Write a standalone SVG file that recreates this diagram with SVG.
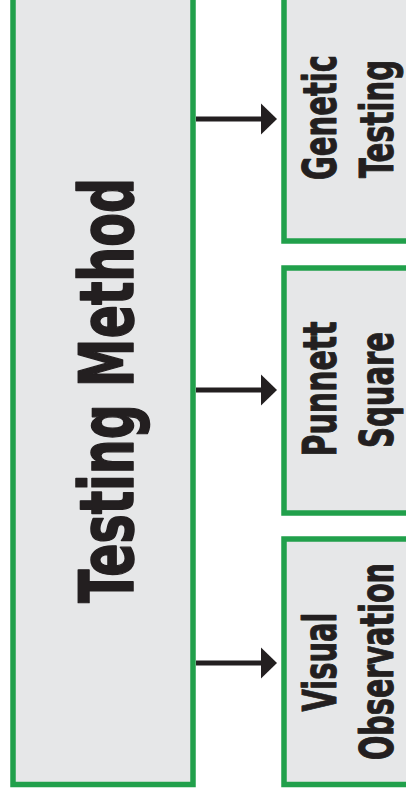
<svg xmlns="http://www.w3.org/2000/svg" width="406" height="797" viewBox="0 0 406 797">
<defs>
<style>
.box{fill:#e6e7e8;stroke:#21a04b;stroke-width:5.5}
.lbl{font-family:"Liberation Sans Narrow","DejaVu Sans Condensed","Liberation Sans",sans-serif;font-weight:bold;fill:#231f20;stroke:#231f20;stroke-linejoin:round;text-anchor:middle}
.big{font-size:74px;stroke-width:1.6}
.sm{font-size:47px;stroke-width:1}
.conn{stroke:#231f20;stroke-width:5;fill:none}
.head{fill:#231f20}
</style>
</defs>
<rect width="406" height="797" fill="#ffffff"/>
<g id="testing-method">
<rect class="box" x="13" y="-10" width="180" height="794.5"/>
<text class="lbl big" transform="translate(133,390.5) rotate(-90)" textLength="425" lengthAdjust="spacingAndGlyphs">Testing Method</text>
</g>
<g id="genetic-testing">
<rect class="box" x="284" y="-10" width="140" height="251"/>
<text class="lbl sm" transform="translate(336,117.5) rotate(-90)" textLength="125" lengthAdjust="spacingAndGlyphs">Genetic</text>
<text class="lbl sm" transform="translate(393,119) rotate(-90)" textLength="118" lengthAdjust="spacingAndGlyphs">Testing</text>
</g>
<g id="punnett-square">
<rect class="box" x="284" y="268" width="140" height="245"/>
<text class="lbl sm" transform="translate(336,389) rotate(-90)" textLength="135" lengthAdjust="spacingAndGlyphs">Punnett</text>
<text class="lbl sm" transform="translate(393,390) rotate(-90)" textLength="116" lengthAdjust="spacingAndGlyphs">Square</text>
</g>
<g id="visual-observation">
<rect class="box" x="284" y="539" width="140" height="245.5"/>
<text class="lbl sm" transform="translate(336,662) rotate(-90)" textLength="99" lengthAdjust="spacingAndGlyphs">Visual</text>
<text class="lbl sm" transform="translate(393,661.5) rotate(-90)" textLength="197" lengthAdjust="spacingAndGlyphs">Observation</text>
</g>
<g id="connectors">
<line class="conn" x1="196" y1="119" x2="263" y2="119"/>
<polygon class="head" points="261,103.5 277,119 261,134.5"/>
<line class="conn" x1="196" y1="390" x2="263" y2="390"/>
<polygon class="head" points="261,374.5 277,390 261,405.5"/>
<line class="conn" x1="196" y1="663" x2="263" y2="663"/>
<polygon class="head" points="261,647.5 277,663 261,678.5"/>
</g>
</svg>
